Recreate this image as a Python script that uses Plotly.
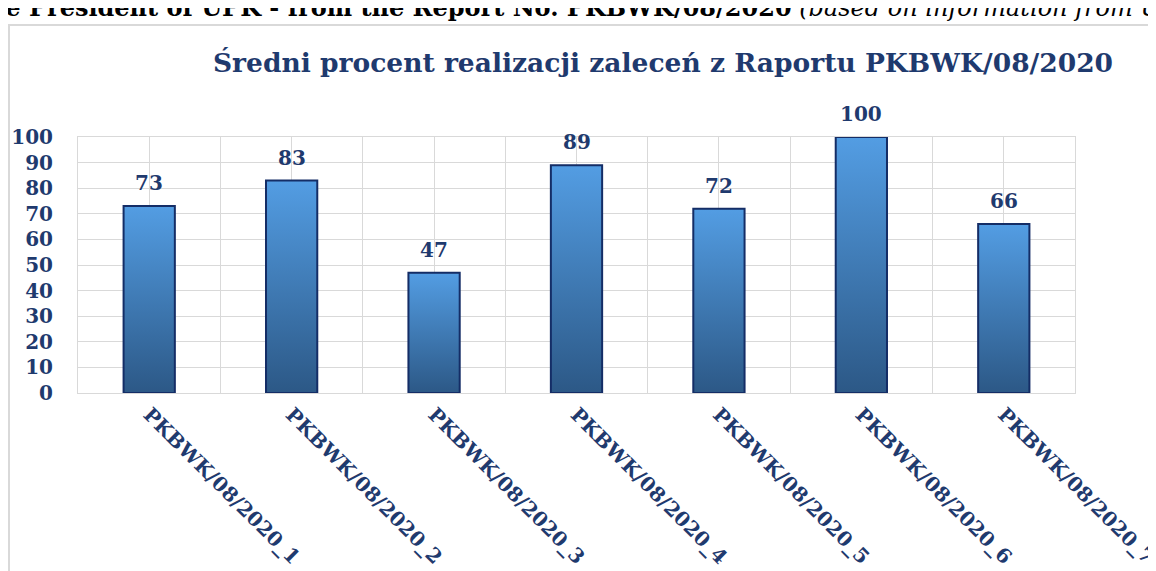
import plotly.graph_objects as go

# data
categories = ["PKBWK/08/2020_1", "PKBWK/08/2020_2", "PKBWK/08/2020_3", "PKBWK/08/2020_4",
              "PKBWK/08/2020_5", "PKBWK/08/2020_6", "PKBWK/08/2020_7"]
values = [73, 83, 47, 89, 72, 100, 66]
y_ticks = [0, 10, 20, 30, 40, 50, 60, 70, 80, 90, 100]

title_text = "Średni procent realizacji zaleceń z Raportu PKBWK/08/2020"
header_text = ("<b>The President of UPK - from the Report No. PKBWK/08/2020</b> "
               "<i>(based on information from UPK)</i>")

NAVY = "#1f3a6e"
GRID = "#d9d9d9"
SERIF = "DejaVu Serif"

W, H = 1156, 571
OFF = 8  # browser body margin pushes the figure 8px right/down
# plot area in screen pixels: left 78, right 1075, top 137, bottom 393
ML, MT = 78 - OFF, 137 - OFF
MR, MB = W - (1075 - OFF), H - (393 - OFF)

positions = list(range(len(categories)))
half_w = 0.18  # half bar width in category units

fig = go.Figure()

# bars drawn as filled shapes so they can carry Excel-like vertical gradient
for pos, val in zip(positions, values):
    fig.add_trace(go.Scatter(
        x=[pos - half_w, pos - half_w, pos + half_w, pos + half_w, pos - half_w],
        y=[0, val, val, 0, 0],
        mode="lines",
        fill="toself",
        fillgradient=dict(type="vertical", colorscale=[[0, "#2c5886"], [1, "#539de3"]]),
        line=dict(color="#142d66", width=2),
        hoverinfo="skip",
        showlegend=False,
    ))

# value labels on top of bars
for pos, val in zip(positions, values):
    fig.add_annotation(x=pos, y=val, text=str(val), showarrow=False,
                       yanchor="bottom", yshift=9,
                       font=dict(family=SERIF, size=20, color=NAVY, weight="bold"))

# helpers: screen pixel -> paper coords (for the outer decoration)
pw, ph = W - ML - MR, H - MT - MB
def px_x(p):
    return (p - OFF - ML) / pw
def px_y(p):
    return (H - MB - (p - OFF)) / ph

# cut-off document line above the chart
fig.add_annotation(xref="paper", yref="paper", x=px_x(-32), y=px_y(7),
                   xanchor="left", yanchor="middle", showarrow=False,
                   text=header_text, font=dict(family=SERIF, size=24, color="#000000"))

# outer chart frame
fig.add_shape(type="rect", xref="paper", yref="paper",
              x0=px_x(9), x1=px_x(1250), y0=px_y(650), y1=px_y(25),
              line=dict(color=GRID, width=2), layer="below")

fig.update_layout(
    width=W, height=H,
    margin=dict(l=ML, r=MR, t=MT, b=MB, autoexpand=False),
    paper_bgcolor="white", plot_bgcolor="white",
    title=dict(text="<b>" + title_text + "</b>", x=(663 - OFF) / W, xanchor="center",
               y=1 - (63 - OFF) / H, yanchor="middle",
               font=dict(family=SERIF, size=26.5, color=NAVY)),
    showlegend=False,
)

fig.update_xaxes(
    range=[-0.5, len(categories) - 0.5],
    tickvals=positions, ticktext=categories, tickangle=45,
    ticks="outside", ticklen=1, tickcolor="rgba(0,0,0,0)",
    ticklabeloverflow="allow",
    tickfont=dict(family=SERIF, size=20, color=NAVY, weight="bold"),
    showgrid=True, gridcolor=GRID, gridwidth=1,
    minor=dict(tickvals=[p - 0.5 for p in positions] + [positions[-1] + 0.5],
               showgrid=True, gridcolor=GRID, gridwidth=1),
    showline=True, linecolor=GRID, linewidth=1, mirror=True,
    zeroline=False, automargin=False, fixedrange=True,
)

fig.update_yaxes(
    range=[0, 100], tickvals=y_ticks,
    ticks="outside", ticklen=20, tickcolor="rgba(0,0,0,0)",
    tickfont=dict(family=SERIF, size=20, color=NAVY, weight="bold"),
    showgrid=True, gridcolor=GRID, gridwidth=1,
    showline=True, linecolor=GRID, linewidth=1, mirror=True,
    zeroline=False, automargin=False, fixedrange=True,
)

fig.write_html("out.html")
